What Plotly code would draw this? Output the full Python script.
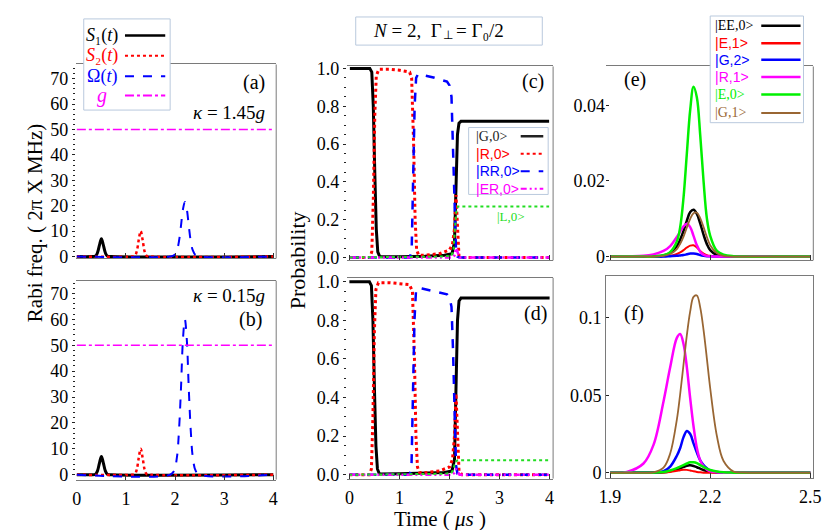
import plotly.graph_objects as go

W, H = 830, 530
def PX(x): return x / W
def PY(y): return 1 - y / H

# ---------------- data: panels (a), (b) ----------------
t_S1 = [0, 0.30, 0.38, 0.42, 0.46, 0.50, 0.54, 0.58, 0.62, 0.70, 4.0]
S1_a = [0, 0, 0.2, 1.5, 4.5, 7.0, 4.5, 1.5, 0.2, 0, 0]
S1_b = [0, 0, 0.2, 1.5, 4.5, 7.0, 4.5, 1.5, 0.2, 0, 0]
t_S2 = [0, 1.10, 1.18, 1.22, 1.26, 1.30, 1.34, 1.38, 1.42, 1.50, 4.0]
S2_a = [0, 0, 0.3, 2.0, 6.5, 10.0, 6.5, 2.0, 0.3, 0, 0]
S2_b = [0, 0, 0.3, 2.0, 6.5, 10.0, 6.5, 2.0, 0.3, 0, 0]
t_Om = [0, 1.90, 1.98, 2.04, 2.08, 2.12, 2.16, 2.20, 2.24, 2.28, 2.32, 2.36, 2.42, 2.50, 4.0]
Om_a = [0, 0, 0.5, 2.5, 6.0, 12.0, 18.5, 21.5, 18.5, 12.0, 6.0, 2.5, 0.5, 0, 0]
Om_b = [0, 0, 1.5, 7, 17, 33, 52, 60, 52, 33, 17, 7, 1.5, 0, 0]
t_g = [0, 4.0]
g_a = [50, 50]
g_b = [50, 50]

# ---------------- data: panels (c), (d) ----------------
t_G = [0, 0.40, 0.44, 0.47, 0.50, 0.53, 0.56, 0.60, 1.0, 1.5, 1.9, 2.05, 2.10, 2.13, 2.16, 2.19, 2.23, 2.30, 4.0]
G_c = [1.0, 1.0, 0.98, 0.80, 0.45, 0.15, 0.03, 0.004, 0.004, 0.006, 0.012, 0.02, 0.08, 0.40, 0.65, 0.71, 0.72, 0.72, 0.72]
G_d = [1.0, 1.0, 0.98, 0.80, 0.45, 0.15, 0.03, 0.004, 0.005, 0.008, 0.012, 0.02, 0.08, 0.45, 0.80, 0.90, 0.915, 0.915, 0.915]
t_R_c = [0, 0.40, 0.44, 0.47, 0.50, 0.53, 0.58, 0.8, 1.0, 1.2, 1.24, 1.28, 1.31, 1.34, 1.38, 1.5, 1.8, 2.0, 2.06, 2.10, 2.13, 2.16, 2.19, 2.25, 4.0]
R_c = [0, 0, 0.03, 0.3, 0.75, 0.96, 0.995, 0.995, 0.99, 0.98, 0.95, 0.6, 0.2, 0.04, 0.012, 0.012, 0.02, 0.04, 0.07, 0.15, 0.33, 0.12, 0.01, 0, 0]
t_R_d = [0, 0.40, 0.44, 0.47, 0.50, 0.53, 0.58, 0.8, 1.0, 1.2, 1.26, 1.30, 1.33, 1.36, 1.40, 1.5, 1.8, 2.0, 2.06, 2.10, 2.13, 2.16, 2.19, 2.25, 4.0]
R_d = [0, 0, 0.03, 0.3, 0.75, 0.96, 0.995, 0.995, 0.99, 0.985, 0.95, 0.6, 0.2, 0.04, 0.012, 0.01, 0.02, 0.04, 0.08, 0.2, 0.42, 0.2, 0.02, 0, 0]
t_RR = [0, 1.20, 1.24, 1.27, 1.30, 1.33, 1.37, 1.45, 1.7, 1.95, 2.0, 2.04, 2.07, 2.10, 2.13, 2.16, 2.20, 4.0]
RR_c = [0, 0, 0.03, 0.35, 0.8, 0.95, 0.97, 0.965, 0.95, 0.93, 0.91, 0.85, 0.6, 0.25, 0.04, 0.005, 0, 0]
RR_d = [0, 0, 0.03, 0.35, 0.8, 0.95, 0.97, 0.965, 0.95, 0.935, 0.92, 0.87, 0.65, 0.3, 0.05, 0.005, 0, 0]
t_ER = [0, 2.05, 2.10, 2.13, 2.16, 2.20, 4.0]
ER_c = [0, 0, 0.01, 0.05, 0.03, 0, 0]
ER_d = [0, 0, 0.01, 0.03, 0.02, 0, 0]
t_L = [0, 1.9, 2.04, 2.08, 2.11, 2.14, 2.17, 4.0]
L_c = [0, 0.005, 0.01, 0.04, 0.15, 0.25, 0.27, 0.27]
L_d = [0, 0.005, 0.01, 0.03, 0.06, 0.072, 0.075, 0.075]

# ---------------- data: panels (e), (f) ----------------
t_ef = [1.90, 1.95, 2.00, 2.03, 2.06, 2.08, 2.10, 2.11, 2.12, 2.13, 2.14, 2.15, 2.16, 2.17,
        2.18, 2.19, 2.20, 2.22, 2.24, 2.27, 2.30, 2.40, 2.50]
EE0_e = [0, 0, 0, 0.0001, 0.0003, 0.001, 0.0028, 0.0045, 0.0068, 0.0095, 0.0118, 0.0124, 0.0113, 0.0088,
         0.0058, 0.0033, 0.0017, 0.0004, 0.0001, 0, 0, 0, 0]
E1_e = [0, 0, 0, 0, 0.0001, 0.0002, 0.0007, 0.0011, 0.0017, 0.0024, 0.0029, 0.003, 0.0024, 0.0015,
        0.0008, 0.0004, 0.0002, 0.0001, 0, 0, 0, 0, 0]
G2_e = [0, 0, 0, 0, 0, 0.0001, 0.0002, 0.0003, 0.0004, 0.0006, 0.0008, 0.0008, 0.0007, 0.0004,
        0.0002, 0.0001, 0.0001, 0, 0, 0, 0, 0, 0]
R1_e = [0, 0.0001, 0.0002, 0.0006, 0.0015, 0.0028, 0.0052, 0.0066, 0.008, 0.0087, 0.0078, 0.0055, 0.003, 0.0013,
        0.0005, 0.0002, 0.0001, 0, 0, 0, 0, 0, 0]
E0_e = [0, 0, 0, 0, 0.0004, 0.0012, 0.004, 0.0078, 0.0156, 0.0273, 0.0388, 0.0449, 0.0421, 0.0322,
        0.020, 0.0101, 0.0055, 0.0015, 0.0005, 0.0001, 0, 0, 0]
G1_e = [0, 0, 0, 0, 0.0002, 0.0007, 0.002, 0.0034, 0.0053, 0.0077, 0.0100, 0.0115, 0.0116, 0.0102,
        0.0078, 0.0052, 0.003, 0.0009, 0.0002, 0, 0, 0, 0]

EE0_f = [0, 0, 0, 0.0001, 0.0003, 0.001, 0.0022, 0.003, 0.0038, 0.0046, 0.0048, 0.0044, 0.0036, 0.0027,
         0.0018, 0.0011, 0.0006, 0.0002, 0, 0, 0, 0, 0]
E1_f = [0, 0, 0, 0, 0.0002, 0.0006, 0.0013, 0.0017, 0.002, 0.0019, 0.0015, 0.001, 0.0006, 0.0003,
        0.0001, 0, 0, 0, 0, 0, 0, 0, 0]
G2_f = [0, 0, 0, 0.0002, 0.001, 0.004, 0.011, 0.016, 0.023, 0.027, 0.025, 0.019, 0.013, 0.008,
        0.005, 0.003, 0.0015, 0.0005, 0.0001, 0, 0, 0, 0]
R1_f = [0.0001, 0.0006, 0.006, 0.018, 0.046, 0.068, 0.087, 0.0895, 0.083, 0.068, 0.048, 0.030, 0.016, 0.008,
        0.004, 0.002, 0.001, 0.0003, 0.0001, 0, 0, 0, 0]
E0_f = [0, 0, 0, 0.0001, 0.0005, 0.0015, 0.003, 0.004, 0.005, 0.006, 0.0068, 0.0068, 0.0062, 0.005,
        0.0038, 0.0027, 0.0018, 0.0008, 0.0003, 0.0001, 0, 0, 0]
G1_f = [0, 0, 0, 0.0003, 0.0033, 0.0124, 0.0343, 0.0508, 0.0698, 0.0887, 0.104, 0.1134, 0.1143, 0.1066,
        0.0921, 0.0736, 0.0545, 0.0237, 0.0076, 0.0008, 0.0001, 0, 0]

# tick labels
ticks_rabi = [0, 10, 20, 30, 40, 50, 60, 70]
ticks_time = [0, 1, 2, 3, 4]
ticks_prob = [0.0, 0.2, 0.4, 0.6, 0.8, 1.0]
ticks_prob_text = ["0.0", "0.2", "0.4", "0.6", "0.8", "1.0"]
ticks_zoom_x = [1.9, 2.2, 2.5]
ticks_e_y = [0, 0.02, 0.04]
ticks_e_text = ["0", "0.02", "0.04"]
ticks_f_y = [0, 0.05, 0.1]
ticks_f_text = ["0", "0.05", "0.1"]

BLACK, RED, BLUE, MAG = "#000000", "#FF0000", "#0000FF", "#FF00FF"
GREEN, GREEN2, BROWN = "#22DD22", "#00F000", "#996633"
SERIF = "Liberation Serif, Times New Roman, serif"
SANS = "Liberation Sans, Arial, sans-serif"

fig = go.Figure()

def add(x, y, ax, color, width, dash="solid", shape="linear"):
    fig.add_trace(go.Scatter(x=x, y=y, mode="lines", xaxis="x" + ax, yaxis="y" + ax,
                             line=dict(color=color, width=width, dash=dash, shape=shape),
                             showlegend=False, hoverinfo="skip"))

# (a) and (b)
for ax, s1, s2, om, gg in [("", S1_a, S2_a, Om_a, g_a), ("2", S1_b, S2_b, Om_b, g_b)]:
    add(t_S1, s1, ax, BLACK, 3, "solid", "spline")
    add(t_S2, s2, ax, RED, 2.5, "dot", "spline")
    add(t_Om, om, ax, BLUE, 2, "dash", "spline")
    add(t_g, gg, ax, MAG, 1.5, "dashdot")

# (c) and (d)
ERDASH = "6px,3px,2px,3px,2px,3px"
for ax, G, tR, R, RR, ER, L in [("3", G_c, t_R_c, R_c, RR_c, ER_c, L_c),
                                ("4", G_d, t_R_d, R_d, RR_d, ER_d, L_d)]:
    add(t_G, G, ax, BLACK, 3)
    add(tR, R, ax, RED, 3, "dot")
    add(t_RR, RR, ax, BLUE, 2.5, "dash")
    add(t_ER, ER, ax, MAG, 2.5, ERDASH)
    add(t_L, L, ax, GREEN, 2, "dot")

# (e) and (f)
for ax, ser in [("5", [EE0_e, E1_e, G2_e, R1_e, E0_e, G1_e]),
                ("6", [EE0_f, E1_f, G2_f, R1_f, E0_f, G1_f])]:
    cols = [BLACK, RED, BLUE, MAG, GREEN2, BROWN]
    wids = [2.5, 2, 2.5, 2.5, 2.5, 1.8]
    for s, c, w in zip(ser, cols, wids):
        add(t_ef, s, ax, c, w, "solid", "spline")

def xax(d, rng, tv, labels, anchor, ttext=None):
    a = dict(domain=[PX(d[0]), PX(d[1])], range=rng, tickvals=tv, showticklabels=labels,
             ticks="inside", ticklen=5, tickcolor="#333", showline=True, mirror=True,
             linecolor="#7a7a7a", linewidth=1, showgrid=False, zeroline=False, anchor=anchor,
             ticklabelstandoff=3,
             tickfont=dict(family=SERIF, size=18, color="black"))
    if ttext:
        a["ticktext"] = ttext
    return a

def yax(d, rng, tv, ttext, anchor, minor=None, ticks="outside", line=False):
    a = dict(domain=[PY(d[1]), PY(d[0])], range=rng, tickvals=tv, ticktext=ttext,
             ticks=ticks, ticklen=3, tickcolor="#222", showline=line, mirror=line,
             linecolor="#7a7a7a", linewidth=1, showgrid=False, zeroline=False, anchor=anchor,
             tickfont=dict(family=SERIF, size=18, color="black"))
    if minor:
        a["minor"] = dict(tickmode="linear", tick0=0, dtick=minor, ticks="outside",
                          ticklen=2, tickwidth=1.2, tickcolor="#222")
    return a

rabi_txt = [str(v) for v in ticks_rabi]
fig.update_layout(
    xaxis=xax((62, 266), [-0.02, 4.06], ticks_time, False, "y"),
    yaxis=yax((50, 250), [-0.76, 75.6], ticks_rabi, rabi_txt, "x", minor=2),
    xaxis2=xax((62, 266), [-0.02, 4.06], ticks_time, True, "y2"),
    yaxis2=yax((273, 478), [-1.87, 74.9], ticks_rabi, rabi_txt, "x2", minor=2),
    xaxis3=xax((338, 548), [-0.06, 4.08], ticks_time, False, "y3"),
    yaxis3=yax((52, 252), [-0.0154, 1.0103], ticks_prob, ticks_prob_text, "x3", minor=0.05),
    xaxis4=xax((338, 548), [-0.05, 4.07], ticks_time, True, "y4"),
    yaxis4=yax((270, 477), [-0.02, 1.02], ticks_prob, ticks_prob_text, "x4", minor=0.05),
    xaxis5=xax((602, 813), [1.888, 2.509], ticks_zoom_x, False, "y5"),
    yaxis5=yax((52, 252), [-0.001, 0.0503], ticks_e_y, ticks_e_text, "x5", ticks="inside"),
    xaxis6=xax((602, 813), [1.888, 2.509], ticks_zoom_x, True, "y6", ["1.9", "2.2", "2.5"]),
    yaxis6=yax((268, 476), [-0.0031, 0.1269], ticks_f_y, ticks_f_text, "x6", ticks="inside", line=True),
)

shapes = []
# right frame lines for a-e
for ax in ["", "2", "3", "4", "5"]:
    shapes.append(dict(type="line", xref="x%s domain" % ax, yref="y%s domain" % ax,
                       x0=1, x1=1, y0=0, y1=1, line=dict(color="#7a7a7a", width=1)))

BOX = "#B9C9DD"
def box(x0, y0, x1, y1):
    shapes.append(dict(type="rect", xref="paper", yref="paper", x0=PX(x0), x1=PX(x1),
                       y0=PY(y1), y1=PY(y0), fillcolor="white", line=dict(color=BOX, width=1),
                       layer="above"))

def sample(x0, x1, y, color, width, dash):
    shapes.append(dict(type="line", xref="paper", yref="paper", x0=PX(x0), x1=PX(x1),
                       y0=PY(y), y1=PY(y), line=dict(color=color, width=width, dash=dash),
                       layer="above"))

ann = []
def text(x, y, s, color="black", size=18, xanchor="center", family=SERIF, angle=0):
    ann.append(dict(x=PX(x), y=PY(y), xref="paper", yref="paper", text=s, showarrow=False,
                    xanchor=xanchor, yanchor="middle", textangle=angle,
                    font=dict(family=family, size=size, color=color)))

# legend (a)
box(70, 3, 158, 97)
leg_a = [("<i>S</i>₁(<i>t</i>)", BLACK, "solid", 2.5, 20),
         ("<i>S</i>₂(<i>t</i>)", RED, "dot", 2, 41),
         ("Ω(<i>t</i>)", BLUE, "dash", 2, 62),
         ("<i>g</i>", MAG, "dashdot", 2, 82)]
for s, c, d, w, y in leg_a:
    text(89, y, s, c, 20 if s == "<i>g</i>" else 18)
    sample(112, 153, y, c, w, d)

# title box
box(347, 1, 537, 30)
text(437, 15, "<i>N</i> = 2,  Γ", size=19, xanchor="right")
text(441, 20, "⊥", size=12)
text(447, 15, "= Γ₀/2", size=19, xanchor="left")

# legend (c)
box(462, 115, 543, 184)
leg_c = [("|G,0>", "#222222", "solid", 2.5, 124, SERIF),
         ("|R,0>", RED, "dot", 2, 142, SANS),
         ("|RR,0>", BLUE, "dash", 2, 160, SANS),
         ("|ER,0>", MAG, ERDASH, 2, 178, SANS)]
for s, c, d, w, y, f in leg_c:
    text(467, y, s, c, 14, "left", f)
    sample(515, 538, y, c, w, d)
text(505, 207, "|L,0>", GREEN, 13)

# legend (e)
box(708, 0, 803, 110)
leg_e = [("|EE,0>", BLACK, 10, SERIF), ("|E,1>", RED, 28, SANS),
         ("|G,2>", BLUE, 45, SANS), ("|R,1>", MAG, 63, SANS),
         ("|E,0>", GREEN2, 81, SERIF), ("|G,1>", BROWN, 100, SERIF)]
for s, c, y, f in leg_e:
    text(711, y, s, c, 14, "left", f)
    sample(760, 800, y, c, 2.5 if c != BROWN else 2, "solid")

# panel labels
text(243, 69, "(a)", size=20)
text(257, 100, "<i>κ</i> = 1.45<i>g</i>", size=19, xanchor="right")
text(240, 313, "(b)", size=20)
text(257, 288, "<i>κ</i> = 0.15<i>g</i>", size=19, xanchor="right")
text(528, 68, "(c)", size=20)
text(530, 307, "(d)", size=20)
text(631, 65, "(e)", size=20)
text(630, 307, "(f)", size=20)

# axis titles
text(20, 214, "Rabi freq. ( 2π X MHz)", size=21, angle=-90)
text(288, 252, "Probability", size=22, angle=-90)
text(433, 519, "Time ( <i>μs</i> )", size=21)

fig.update_layout(width=W, height=H, margin=dict(l=0, r=0, t=0, b=0),
                  plot_bgcolor="white", paper_bgcolor="white",
                  font=dict(family=SERIF, size=18, color="black"),
                  shapes=shapes, annotations=ann, showlegend=False)

fig.write_html("out.html")
